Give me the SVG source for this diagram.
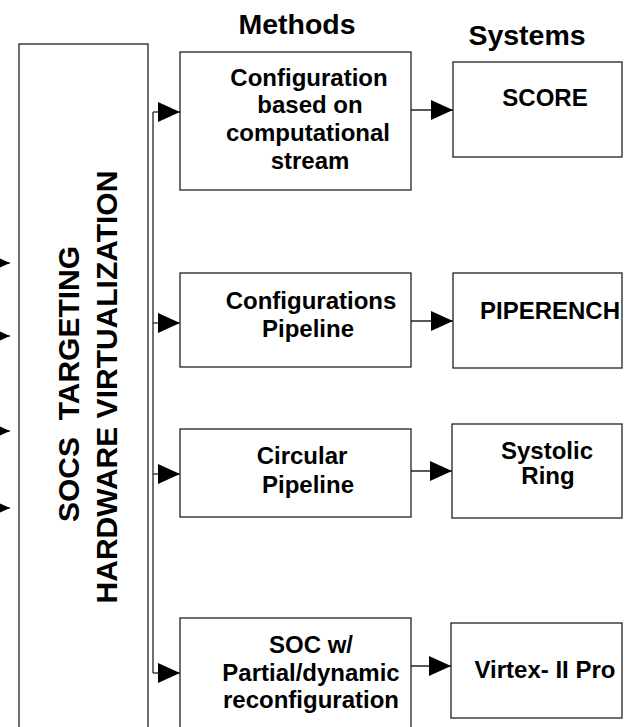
<svg xmlns="http://www.w3.org/2000/svg" width="628" height="727" viewBox="0 0 628 727">
<defs>
<marker id="ah" markerUnits="userSpaceOnUse" markerWidth="22" markerHeight="20" refX="22" refY="10" orient="auto">
<path d="M0,0 L22,10 L0,20 z" fill="#000"/>
</marker>
<style>
.box{fill:#fff;stroke:#222;stroke-width:1.3}
.ln{fill:none;stroke:#222;stroke-width:1.3}
.t{font-family:"Liberation Sans",Arial,sans-serif;font-weight:bold;fill:#000;text-anchor:middle;font-size:24px}
.h{font-size:28.5px}
.v{font-size:30px}
</style>
</defs>
<rect width="628" height="727" fill="#fff"/>
<g id="connectors">
<path class="ln" d="M-20,263 H10" marker-end="url(#ah)"/>
<path class="ln" d="M-20,336 H10" marker-end="url(#ah)"/>
<path class="ln" d="M-20,431 H10" marker-end="url(#ah)"/>
<path class="ln" d="M-20,508 H10" marker-end="url(#ah)"/>
<path class="ln" d="M153,673 V112"/>
<path class="ln" d="M153,112 H180" marker-end="url(#ah)"/>
<path class="ln" d="M153,323 H180" marker-end="url(#ah)"/>
<path class="ln" d="M153,474 H180" marker-end="url(#ah)"/>
<path class="ln" d="M153,673 H180" marker-end="url(#ah)"/>
<path class="ln" d="M411,110 H453" marker-end="url(#ah)"/>
<path class="ln" d="M411,321 H453" marker-end="url(#ah)"/>
<path class="ln" d="M411,471 H452" marker-end="url(#ah)"/>
<path class="ln" d="M411,666 H451" marker-end="url(#ah)"/>
</g>
<g id="title-methods"><text class="t h" x="297" y="34">Methods</text></g>
<g id="title-systems"><text class="t h" x="527" y="45">Systems</text></g>
<g id="main">
<rect class="box" x="19" y="44" width="129" height="700"/>
<text class="t v" transform="translate(79,384) rotate(-90)" xml:space="preserve">SOCS  TARGETING</text>
<text class="t v" transform="translate(117,387) rotate(-90)">HARDWARE VIRTUALIZATION</text>
</g>
<g id="m1">
<rect class="box" x="180" y="52" width="231" height="138"/>
<text class="t" x="309" y="86">Configuration</text>
<text class="t" x="310" y="113">based on</text>
<text class="t" x="308" y="141">computational</text>
<text class="t" x="310" y="169">stream</text>
</g>
<g id="m2">
<rect class="box" x="180" y="273" width="231" height="94"/>
<text class="t" x="311" y="309">Configurations</text>
<text class="t" x="308" y="337">Pipeline</text>
</g>
<g id="m3">
<rect class="box" x="180" y="429" width="231" height="88"/>
<text class="t" x="302" y="464">Circular</text>
<text class="t" x="308" y="493">Pipeline</text>
</g>
<g id="m4">
<rect class="box" x="180" y="618" width="231" height="130"/>
<text class="t" x="311" y="653">SOC w/</text>
<text class="t" x="311" y="681">Partial/dynamic</text>
<text class="t" x="311" y="708">reconfiguration</text>
</g>
<g id="s1">
<rect class="box" x="453" y="62" width="169" height="95"/>
<text class="t" x="545" y="106">SCORE</text>
</g>
<g id="s2">
<rect class="box" x="453" y="273" width="169" height="95"/>
<text class="t" x="550" y="319">PIPERENCH</text>
</g>
<g id="s3">
<rect class="box" x="452" y="424" width="170" height="94"/>
<text class="t" x="547" y="459">Systolic</text>
<text class="t" x="548" y="484">Ring</text>
</g>
<g id="s4">
<rect class="box" x="451" y="623" width="171" height="95"/>
<text class="t" x="545" y="678">Virtex- II Pro</text>
</g>
</svg>
